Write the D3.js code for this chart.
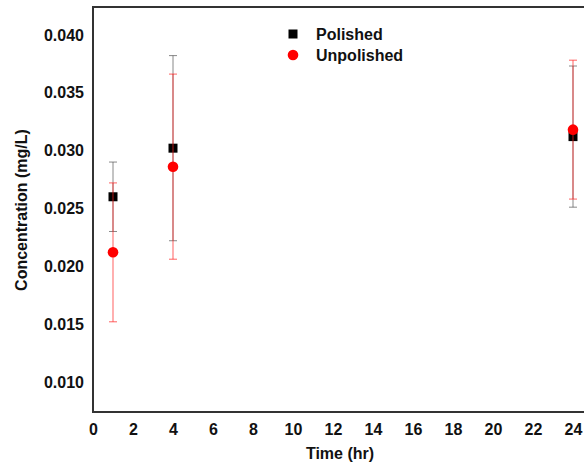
<!DOCTYPE html>
<html>
<head>
<meta charset="utf-8">
<script src="https://cdn.jsdelivr.net/npm/d3@7.9.0/dist/d3.min.js"></script>
<style>
  body { margin: 0; background: #fff; }
  text { font-family: "Liberation Sans", Arial, sans-serif; font-weight: bold; fill: #111; }
</style>
</head>
<body>
<svg id="chart" width="584" height="468"></svg>
<script>
// data
const times = [1, 4, 24];
const polished = [0.0259, 0.0301, 0.0311];
const polishedErr = [0.0030, 0.0080, 0.0061];
const unpolished = [0.0211, 0.0285, 0.0317];
const unpolishedErr = [0.0060, 0.0080, 0.0060];
const xTicks = d3.range(0, 25, 2);
const yTicks = [0.010, 0.015, 0.020, 0.025, 0.030, 0.035, 0.040];

const svg = d3.select('#chart');
const mLeft = 93, mRight = 585, mTop = 7, mBottom = 412;

const x = d3.scaleLinear().domain([0, 24.6]).range([mLeft, mRight]);
const y = d3.scaleLinear().domain([0.0073, 0.0423]).range([mBottom, mTop]);

// axes (labels only, no tick marks)
const xAxis = svg.append('g')
  .attr('transform', `translate(0,${mBottom})`)
  .call(d3.axisBottom(x).tickValues(xTicks).tickSize(0).tickPadding(12).tickFormat(d3.format('d')));
xAxis.select('.domain').remove();
xAxis.selectAll('text').style('font-size', '16px');

const yAxis = svg.append('g')
  .attr('transform', `translate(${mLeft},0)`)
  .call(d3.axisLeft(y).tickValues(yTicks).tickSize(0).tickPadding(9).tickFormat(d3.format('.3f')));
yAxis.select('.domain').remove();
yAxis.selectAll('text').style('font-size', '16px').attr('dy', '0.4em');

// frame
svg.append('path')
  .attr('d', `M${mRight},${mTop}H${mLeft}V${mBottom}H${mRight}`)
  .attr('fill', 'none')
  .attr('stroke', '#333')
  .attr('stroke-width', 2);

svg.append('text')
  .attr('x', 340).attr('y', 459)
  .attr('text-anchor', 'middle')
  .style('font-size', '16px')
  .text('Time (hr)');

svg.append('text')
  .attr('transform', 'translate(27,210) rotate(-90)')
  .attr('text-anchor', 'middle')
  .style('font-size', '16px')
  .text('Concentration (mg/L)');

function errorBars(vals, errs, color, opacity, width) {
  const g = svg.append('g').attr('stroke', color).attr('stroke-opacity', opacity).attr('stroke-width', width);
  times.forEach((t, i) => {
    const cx = x(t), y1 = y(vals[i] + errs[i]), y2 = y(vals[i] - errs[i]);
    g.append('line').attr('x1', cx).attr('x2', cx).attr('y1', y1).attr('y2', y2);
    g.append('line').attr('x1', cx - 4).attr('x2', cx + 4).attr('y1', y1).attr('y2', y1);
    g.append('line').attr('x1', cx - 4).attr('x2', cx + 4).attr('y1', y2).attr('y2', y2);
  });
}

errorBars(polished, polishedErr, '#555', 0.7, 1);

svg.append('g').selectAll('rect')
  .data(times)
  .join('rect')
  .attr('x', (d) => x(d) - 4.5)
  .attr('y', (d, i) => y(polished[i]) - 4.5)
  .attr('width', 9).attr('height', 9)
  .attr('fill', '#000');

errorBars(unpolished, unpolishedErr, '#ff2020', 0.55, 1.3);

svg.append('g').selectAll('circle')
  .data(times)
  .join('circle')
  .attr('cx', (d) => x(d))
  .attr('cy', (d, i) => y(unpolished[i]))
  .attr('r', 5.3)
  .attr('fill', '#ff0000');

// legend
const legend = svg.append('g').attr('transform', 'translate(293,34)');
legend.append('rect').attr('x', -4.5).attr('y', -4.5).attr('width', 9).attr('height', 9).attr('fill', '#000');
legend.append('text').attr('x', 23).attr('y', 6).style('font-size', '16px').text('Polished');
legend.append('circle').attr('cx', 0).attr('cy', 21).attr('r', 5.3).attr('fill', '#ff0000');
legend.append('text').attr('x', 23).attr('y', 27).style('font-size', '16px').text('Unpolished');
</script>
</body>
</html>
